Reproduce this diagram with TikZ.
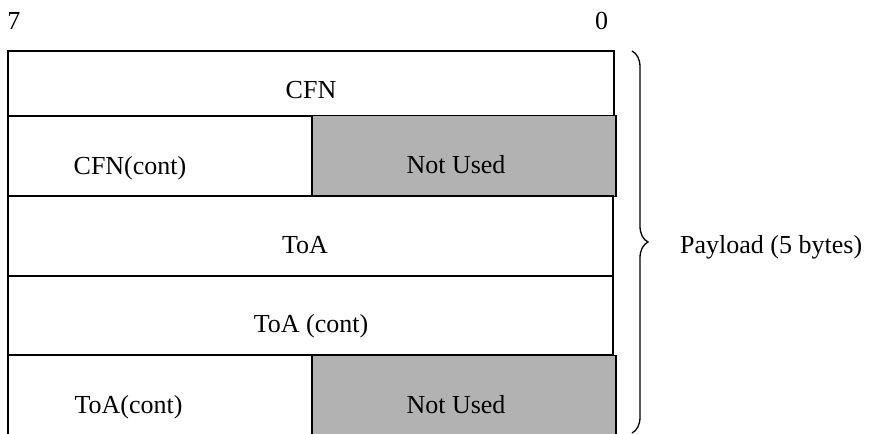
\documentclass[tikz,border=0pt]{standalone}
\usepackage{fontspec}
\setmainfont{Liberation Serif}
\usetikzlibrary{decorations.pathreplacing}
\definecolor{notusedgray}{RGB}{178,178,178}
\tikzset{
  cell/.style={draw=black, line width=1.3pt, anchor=north west, inner sep=0pt, outer sep=0pt},
  unused/.style={cell, fill=notusedgray},
  lbl/.style={anchor=base, inner sep=0pt, font=\fontsize{26}{30}\selectfont},
  bracestyle/.style={decorate, decoration={brace, amplitude=16pt}, line width=1.3pt}
}
\begin{document}
\begin{tikzpicture}[x=1pt, y=-1pt]
\useasboundingbox (0,0) rectangle (871,434);
\clip (0,0) rectangle (871,434);
% cells
\node[cell, minimum width=606pt, minimum height=65pt] (r1) at (8,51) {};
\node[cell, minimum width=304pt, minimum height=81pt] (r2a) at (8,115.5) {};
\node[unused, minimum width=304pt, minimum height=81pt] (r2b) at (312,115.5) {};
\node[cell, minimum width=605pt, minimum height=80pt] (r3) at (8,196) {};
\node[cell, minimum width=605pt, minimum height=79pt] (r4) at (8,276) {};
\node[cell, minimum width=304pt, minimum height=84pt] (r5a) at (8,355.5) {};
\node[unused, minimum width=304pt, minimum height=84pt] (r5b) at (312,355.5) {};
% labels
\node[lbl] (b7) at (14,29) {7};
\node[lbl] (b0) at (601.5,29) {0};
\node[lbl] (t1) at (311,98) {CFN};
\node[lbl] (t2a) at (130,174) {CFN(cont)};
\node[lbl] (t2b) at (456,173) {Not Used};
\node[lbl] (t3) at (305,253) {ToA};
\node[lbl] (t4) at (311,332) {ToA (cont)};
\node[lbl] (t5a) at (128.5,413) {ToA(cont)};
\node[lbl] (t5b) at (456,413) {Not Used};
% brace
\coordinate (bt) at (632,51);
\coordinate (bb) at (632,433);
\draw[bracestyle] (bt) -- (bb);
\node[lbl, anchor=base west] (pl) at (680,253) {Payload (5 bytes)};
\end{tikzpicture}
\end{document}
